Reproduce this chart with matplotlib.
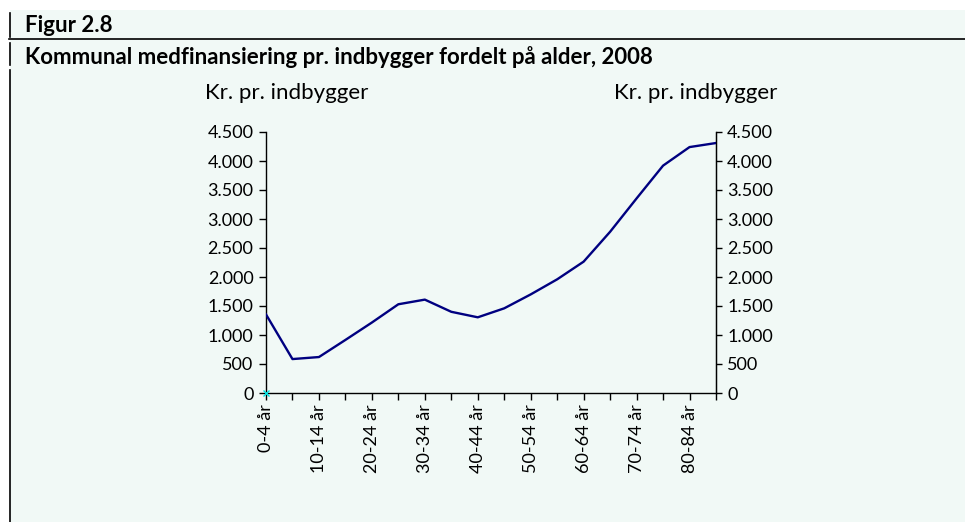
import matplotlib
matplotlib.use("Agg")
import matplotlib.pyplot as plt
from matplotlib.ticker import FuncFormatter
from matplotlib.lines import Line2D

# aldersgrupper og kommunal medfinansiering (kr. pr. indbygger)
aldersgrupper = ["0-4 år", "5-9 år", "10-14 år", "15-19 år", "20-24 år", "25-29 år",
                 "30-34 år", "35-39 år", "40-44 år", "45-49 år", "50-54 år", "55-59 år",
                 "60-64 år", "65-69 år", "70-74 år", "75-79 år", "80-84 år", "85+ år"]
medfinansiering = [1355, 585, 620, 915, 1215, 1530, 1610, 1400, 1305, 1460, 1700, 1960,
                   2265, 2780, 3355, 3920, 4240, 4310]
y_ticks = [0, 500, 1000, 1500, 2000, 2500, 3000, 3500, 4000, 4500]
titel_1 = "Figur 2.8"
titel_2 = "Kommunal medfinansiering pr. indbygger fordelt på alder, 2008"
enhed = "Kr. pr. indbygger"

BG = "#f1f9f6"
FONT = "Lato"
plt.rcParams["font.family"] = [FONT, "DejaVu Sans"]

fig = plt.figure(figsize=(9.65, 5.22), dpi=100)
fig.patch.set_facecolor("white")

W, H = 965, 522
# baggrundsflade (starter lidt inde fra kanten)
fig.patches.append(plt.Rectangle((10 / W, 0), 1 - 10 / W, 1 - 10 / H,
                                 transform=fig.transFigure, facecolor=BG,
                                 edgecolor="none", zorder=-10))

def fx(px):
    return px / W

def fy(py):
    return 1 - py / H

# venstre lodrette streg i stykker + vandret streg under "Figur 2.8"
for y0, y1 in [(13, 37), (43, 65), (70, 522)]:
    fig.add_artist(Line2D([fx(9.5), fx(9.5)], [fy(y0), fy(y1)], color="black", lw=1.2))
fig.add_artist(Line2D([fx(9), 1], [fy(38.5), fy(38.5)], color="black", lw=1.2))

fig.text(fx(25), fy(25), titel_1, fontsize=16, fontweight="bold", va="center", ha="left")
fig.text(fx(25), fy(57), titel_2, fontsize=16, fontweight="bold", va="center", ha="left")

ax = fig.add_axes([266 / W, 1 - 393 / H, (716 - 266) / W, (393 - 132) / H])
ax.set_facecolor(BG)
x = list(range(len(aldersgrupper)))
ax.plot(x, medfinansiering, color="#000080", lw=1.7, zorder=3)
ax.plot([0], [0], marker="x", color="#00e0e0", ms=4, mew=1, zorder=4, clip_on=False)

ax.set_xlim(0, len(aldersgrupper) - 1)
ax.set_ylim(0, 4500)
ax.set_yticks(y_ticks)
fmt = FuncFormatter(lambda v, p: f"{int(v):,}".replace(",", "."))
ax.yaxis.set_major_formatter(fmt)
ax.set_xticks(x)
ax.set_xticklabels([lab if i % 2 == 0 and i < len(x) - 1 else "" for i, lab in enumerate(aldersgrupper)],
                   rotation=90)
ax.tick_params(axis="x", direction="out", length=5, width=1, labelsize=13, pad=3)
ax.tick_params(axis="y", direction="out", length=5, width=1, labelsize=13, pad=4)
ax.spines["top"].set_visible(False)
for s in ["left", "bottom", "right"]:
    ax.spines[s].set_linewidth(1)

ax2 = ax.twinx()
ax2.set_ylim(0, 4500)
ax2.set_yticks(y_ticks)
ax2.yaxis.set_major_formatter(fmt)
ax2.tick_params(axis="y", direction="out", length=4, width=1, labelsize=13, pad=4)
ax2.spines["top"].set_visible(False)
ax2.spines["left"].set_visible(False)
ax2.spines["bottom"].set_visible(False)

fig.text(fx(205), fy(93), enhed, fontsize=16, va="center", ha="left")
fig.text(fx(777), fy(93), enhed, fontsize=16, va="center", ha="right")

fig.savefig("out.png", dpi=100, facecolor=fig.get_facecolor())
